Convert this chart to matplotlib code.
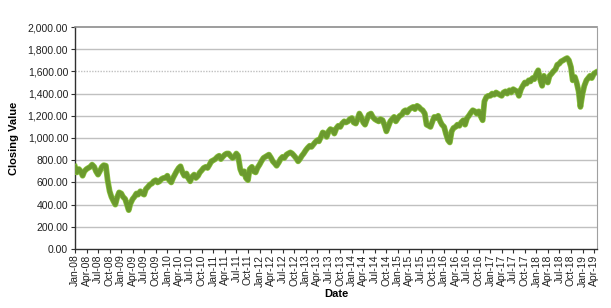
import matplotlib
matplotlib.use("Agg")
import matplotlib.pyplot as plt
import matplotlib.dates as mdates
import matplotlib.patheffects as pe
import pandas as pd
from matplotlib.ticker import FuncFormatter, MultipleLocator

plt.rcParams['font.family'] = ['Liberation Sans', 'DejaVu Sans']

# Semi-monthly closing values (1st and 15th of each month), Jan-2008 .. Apr-2019
values_2008 = [740, 690, 720, 700, 660, 700, 720, 730, 740, 760, 740, 700,
               670, 700, 740, 755, 750, 620, 520, 470, 430, 400, 470, 510]
values_2009 = [500, 470, 450, 400, 350, 410, 450, 470, 500, 490, 520, 500,
               490, 540, 560, 580, 590, 610, 620, 600, 610, 630, 640, 640]
values_2010 = [660, 620, 600, 640, 670, 700, 730, 745, 690, 660, 680, 640,
               610, 650, 670, 640, 660, 690, 710, 730, 740, 730, 760, 790]
values_2011 = [800, 810, 830, 840, 810, 830, 850, 860, 860, 840, 820, 830,
               860, 840, 720, 680, 700, 640, 620, 720, 740, 700, 690, 730]
values_2012 = [760, 790, 820, 830, 840, 850, 820, 790, 770, 750, 780, 810,
               830, 820, 850, 860, 870, 860, 840, 820, 790, 810, 840, 860]
values_2013 = [890, 910, 930, 920, 940, 960, 980, 970, 1010, 1050, 1040, 1010,
               1060, 1080, 1070, 1040, 1090, 1110, 1100, 1130, 1150, 1140, 1150, 1170]
values_2014 = [1180, 1140, 1130, 1170, 1220, 1190, 1140, 1120, 1170, 1210, 1220, 1190,
               1170, 1160, 1150, 1170, 1160, 1120, 1060, 1100, 1150, 1170, 1190, 1150]
values_2015 = [1180, 1200, 1210, 1240, 1250, 1230, 1260, 1270, 1280, 1260, 1290, 1280,
               1260, 1250, 1220, 1120, 1110, 1100, 1150, 1190, 1180, 1200, 1150, 1120]
values_2016 = [1100, 1040, 980, 960, 1060, 1090, 1100, 1120, 1110, 1140, 1160, 1120,
               1180, 1200, 1230, 1250, 1240, 1220, 1240, 1200, 1160, 1330, 1370, 1380]
values_2017 = [1380, 1400, 1390, 1410, 1400, 1390, 1380, 1410, 1420, 1400, 1430, 1410,
               1440, 1430, 1420, 1380, 1440, 1470, 1500, 1490, 1520, 1510, 1540, 1530]
values_2018 = [1580, 1610, 1520, 1470, 1560, 1520, 1500, 1560, 1580, 1600, 1620, 1660,
               1670, 1690, 1700, 1710, 1720, 1700, 1640, 1520, 1550, 1500, 1420, 1280]
values_2019 = [1400, 1470, 1520, 1540, 1560, 1540, 1580, 1590]

values = (values_2008 + values_2009 + values_2010 + values_2011 + values_2012 +
          values_2013 + values_2014 + values_2015 + values_2016 + values_2017 +
          values_2018 + values_2019)
dates = pd.date_range('2008-01-01', periods=len(values), freq='SMS')

y_ticks = list(range(0, 2001, 200))
x_label = 'Date'
y_label = 'Closing Value'

fig = plt.figure(figsize=(6.11, 3.08), dpi=100)
ax = fig.add_axes([0.1228, 0.1916, 0.8542, 0.7207])

ax.plot(dates, values, color='#6b9a2e', linewidth=3.2, solid_joinstyle='round',
        path_effects=[pe.Stroke(linewidth=4.2, foreground='#8cc63f'), pe.Normal()],
        zorder=3)

ax.set_ylim(0, 2000)
ax.set_xlim(pd.Timestamp('2008-01-01'), pd.Timestamp('2019-04-25'))
ax.yaxis.set_major_locator(MultipleLocator(200))
ax.yaxis.set_major_formatter(FuncFormatter(lambda v, p: f'{v:,.2f}'))
ax.xaxis.set_major_locator(mdates.MonthLocator(bymonth=[1, 4, 7, 10], bymonthday=1))
ax.xaxis.set_major_formatter(mdates.DateFormatter('%b-%y'))

for t in y_ticks[1:-1]:
    ls = (0, (1, 1)) if t == 1600 else '-'
    ax.axhline(t, color='#c0c0c0', linewidth=1.0, linestyle=ls, zorder=1)

ax.spines['top'].set_color('#8c8c8c')
ax.spines['top'].set_linewidth(1.2)
ax.spines['right'].set_color('#a0a0a0')
ax.spines['right'].set_linestyle((0, (1, 1)))
ax.spines['right'].set_linewidth(0.8)
ax.spines['left'].set_color('#303030')
ax.spines['bottom'].set_color('#303030')
ax.spines['left'].set_linewidth(1.0)
ax.spines['bottom'].set_linewidth(1.0)

ax.tick_params(axis='y', labelsize=7.5, length=3, width=0.8, color='#303030',
               pad=2, labelcolor='#202020')
ax.tick_params(axis='x', labelsize=7.5, length=3, width=0.8, color='#303030',
               pad=1, labelrotation=90, labelcolor='#202020')

ax.set_xlabel(x_label, fontsize=8, fontweight='bold', labelpad=2)
ax.set_ylabel(y_label, fontsize=8, fontweight='bold', labelpad=6)

fig.savefig('out.png', dpi=100)
